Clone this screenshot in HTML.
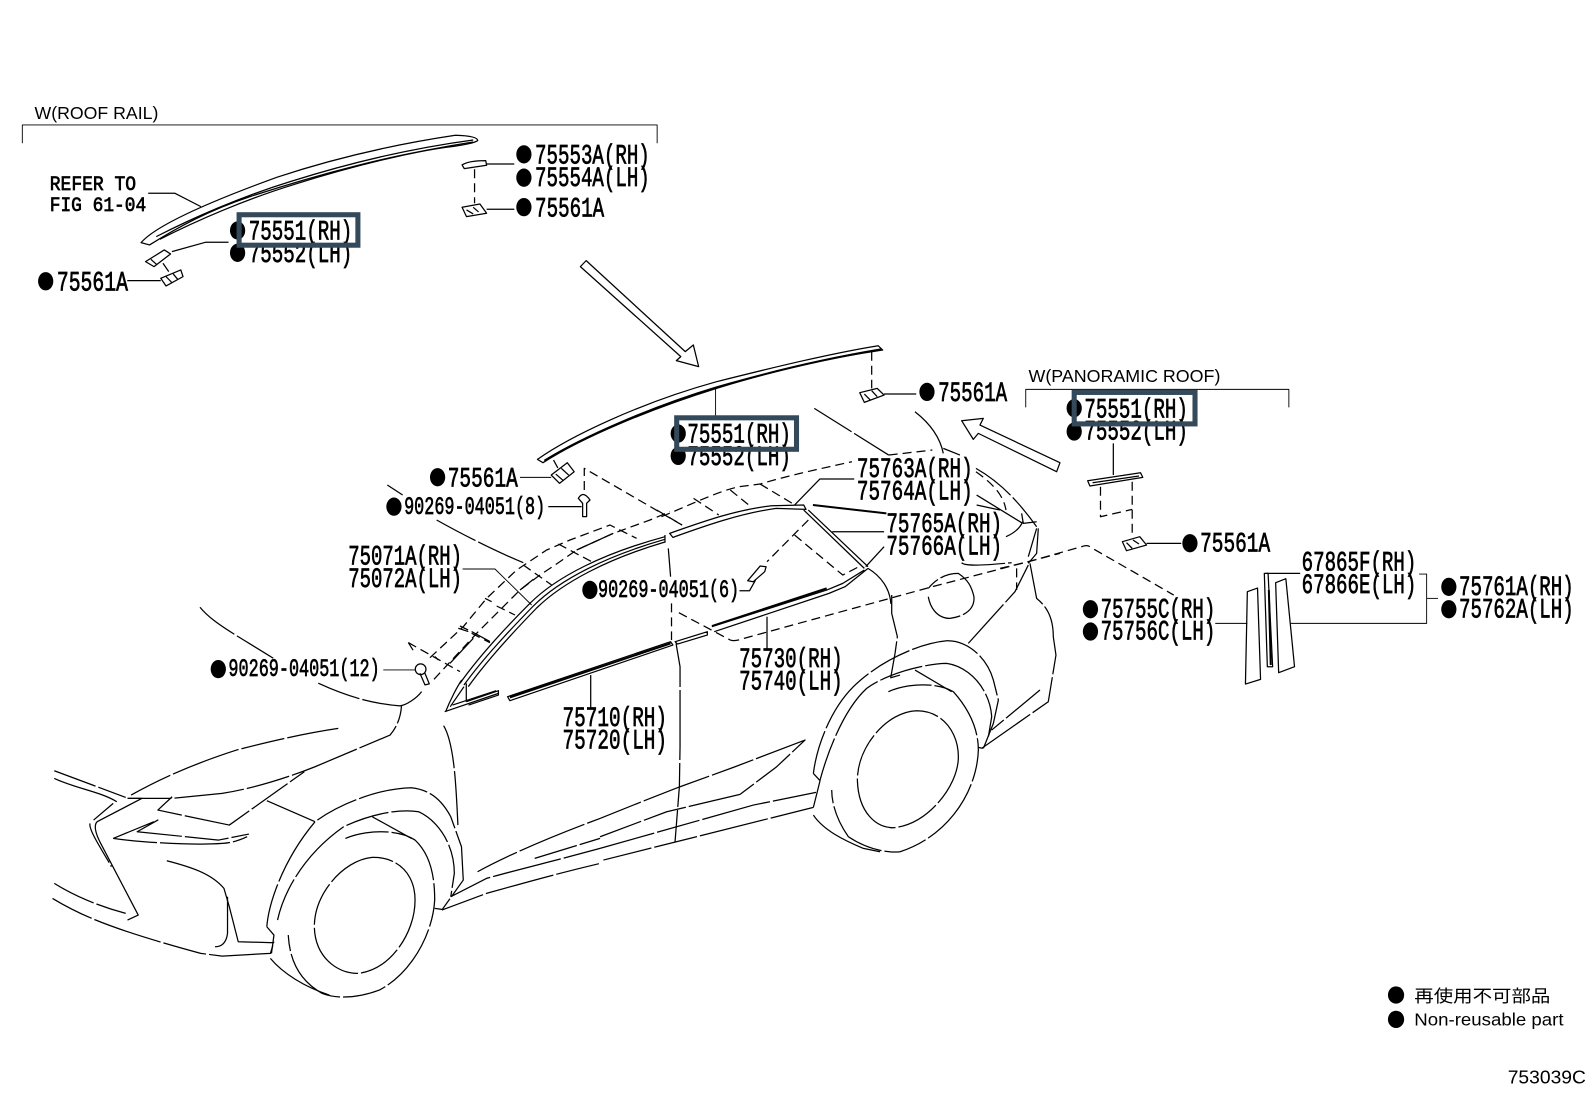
<!DOCTYPE html>
<html><head><meta charset="utf-8"><style>
html,body{margin:0;padding:0;background:#fff}
svg{display:block}
path,ellipse.o{fill:none;stroke:#000;stroke-width:1.25;vector-effect:non-scaling-stroke;stroke-linejoin:round}
.d{stroke-dasharray:9 5}
.c{stroke-dasharray:44 3 70 3}
.t{stroke-width:.9}
.k{stroke-width:2}
text{fill:#000;font-family:"Liberation Mono",monospace;font-weight:normal;font-size:27px;stroke:#000;stroke-width:.7}
.s{font-size:25px}
.n{font-family:"Liberation Sans","Noto Sans CJK JP",sans-serif;font-weight:normal;font-size:17px;stroke:none}
rect{fill:none;stroke:#34495a;stroke-width:5}
</style></head><body>
<svg width="1592" height="1099" viewBox="0 0 1568 1082.4" preserveAspectRatio="none" xmlns="http://www.w3.org/2000/svg">

<!-- top-left inset -->
<g transform="translate(0,88.6) scale(.4397,.3283)">
<path class="t" d="M50 160V105H1472V160"/>
<path d="M316 458C350 405 470 335 620 262C760 200 900 160 1020 136Q1070 138 1070 152Q1060 162 1000 172C880 195 720 250 560 320C470 360 400 410 335 465Z"/>
<path d="M350 440C430 385 540 320 650 275C780 220 920 175 1060 150"/>
<path d="M358 448C440 392 550 328 660 283C790 228 930 183 1060 156"/>
<path d="M332 310H392L450 350"/>
<path d="M512 457H460L385 485"/>
<path d="M326 515L368 480L382 492L345 530ZM338 508L352 525"/>
<path d="M365 520L378 545"/>
<path d="M360 565L405 540L410 560L372 588ZM372 560L385 578M388 552L398 568"/>
<path d="M285 572H360"/>
<path d="M1035 225Q1050 212 1088 212L1090 226L1040 236Z"/>
<path d="M1090 222H1152"/>
<path class="d" d="M1063 238V340"/>
<path d="M1035 352L1075 342L1090 370L1045 380ZM1045 360L1060 372M1060 352L1072 366"/>
<path d="M1090 358H1152"/>
<path d="M1313 512L1535 785L1553 765L1565 830L1515 812L1525 800L1300 530Z"/>
</g>

<!-- central group -->
<g transform="translate(334.9,334.9) scale(.4522,.3283)">
<path d="M430 358C500 290 650 190 820 125C950 80 1070 40 1172 17L1182 30C1060 55 950 90 820 145C680 205 530 290 442 368Z"/>
<path class="k" d="M445 362C530 290 680 200 820 142C950 90 1060 55 1178 28"/>
<path class="t" d="M818 145V240"/>
<path class="d" d="M1158 35V145"/>
<path d="M1132 158L1170 145L1185 165L1142 187ZM1142 162L1155 180M1158 152L1170 170"/>
<path d="M1185 162H1255"/>
<path d="M460 405L495 368L510 395L478 430ZM470 402L485 420M482 385L498 405"/>
<path class="d" d="M465 360L475 385"/>
<path class="t" d="M392 412H460"/>
<path class="d" d="M532 450V385L745 555"/>
<path class="d" d="M700 530C770 490 830 450 870 440L915 432C980 405 1050 385 1115 365"/>
<path class="d" d="M770 475L825 525M850 450L895 500M915 432L985 490M690 510L745 555"/>
<path class="c" d="M1033 205L1195 345"/>
<path class="d" d="M1195 345L1290 330"/>
<path d="M230 1115C240 1080 255 1040 265 1020"/>
<path d="M240 1100L270 1040"/>
<path d="M228 1115L345 1060M245 1095L340 1052M275 1030V1085"/>
<path d="M275 1085L345 1052L345 1065L280 1095"/>
<path d="M718 580C790 545 860 510 940 497L1010 495L1015 508L950 505C870 520 790 560 725 592Z"/>
<path d="M1010 510L1142 685M1020 510L1150 680"/>
<path d="M1142 690L1095 730L1060 750L810 860"/>
<path class="k" d="M1060 745L810 858"/>
<path d="M1150 685L1100 740L1065 760L815 875"/>
<path d="M730 905L800 875L800 885L735 912Z"/>
<path d="M365 1070L720 905L725 915L370 1082Z"/>
<path class="k" d="M370 1072L720 910"/>
<path d="M715 625L720 710"/>
<path class="d" d="M722 790V900"/>
<path class="d" d="M738 818L850 900"/>
<path class="d" d="M850 900Q860 905 880 895L1290 740L1568 640"/>
<path class="d" d="M1020 540L930 665"/>
<path class="d" d="M990 585L1095 705L1130 680"/>
<path d="M888 722L915 678L928 680L925 695L900 725Z"/>
<path d="M870 752H892L905 720"/>
<path d="M930 830V930M546 1005V1105"/>
<path d="M1120 417H1045L990 495"/>
<path d="M1185 575H1072"/>
<path class="k" d="M1030 495L1190 520"/>
<path d="M1185 620L1145 680"/>
<path class="c" d="M1150 685C1180 710 1200 750 1200 800"/>
</g>

<!-- roof area left -->
<g transform="translate(364.4,462.9) scale(.3283)">
<path d="M52 45L98 75"/>
<path class="c" d="M200 150C280 195 380 245 460 278"/>
<path class="d" d="M180 563L280 470L350 385L440 300L530 240L600 210L720 165L800 205"/>
<path class="d" d="M192 628L320 490L400 410L450 360L510 315L570 275L620 240L730 190L840 150L900 125"/>
<path d="M240 580L310 505M450 360L490 328M620 240L730 190"/>
<path class="d" d="M270 468L295 480M345 385L365 395M460 285L545 345M565 222L665 275M305 490L360 518M380 408L435 435"/>
<path d="M270 640C330 555 410 470 480 400C560 320 700 250 885 200"/>
<path d="M282 645C342 562 422 478 490 408C570 328 710 258 885 208"/>
<path d="M295 650C352 570 430 486 500 414C580 336 715 266 885 216"/>
<path d="M885 195V218"/>
<path class="t" d="M278 297H375L485 405"/>
<path d="M625 85Q640 60 660 90L650 100V140H638V100ZM535 110H635"/>
</g>

<!-- 12-bolt -->
<g transform="translate(187.1,581) scale(.3283)">
<path class="c" d="M30 52C70 100 130 130 250 205"/>
<path class="c" d="M385 280C450 310 530 340 630 348C650 345 680 325 695 305"/>
<ellipse class="o" cx="692" cy="238" rx="16" ry="16" style="fill:none"/>
<path d="M690 250L705 285L718 282L705 250"/>
<path class="t" d="M580 240H675"/>
<path class="d" d="M655 158L672 185M655 158L810 245"/>
<path d="M735 200L745 210M805 115L835 125M845 125L900 155"/>
</g>

<!-- rear -->
<g transform="translate(591,551.6) scale(.3283)">
<path class="c" d="M875 105L875 160L892 230L885 280"/>
<path d="M885 280L872 353L900 345"/>
<path class="c" d="M640 640C650 560 690 450 760 380C830 310 950 250 1040 242C1100 240 1160 290 1180 360L1195 420L1180 490L1150 565"/>
<path class="c" d="M660 660C690 550 740 440 800 385C860 340 980 310 1040 310C1110 320 1170 390 1175 470L1165 530"/>
<path d="M640 640L660 662L640 742"/>
<path class="c" d="M0 775L150 715L240 680L400 622L615 540L530 620L420 703L200 755L0 830"/>
<path class="c" d="M648 697L460 735L0 865"/>
<path class="c" d="M640 742L10 900"/>
<path class="c" d="M865 395C920 370 1010 365 1060 395C1100 440 1135 500 1135 570C1130 700 1040 830 900 875C850 880 790 860 745 830C710 780 695 730 695 690"/>
<path d="M640 765C670 810 730 840 790 865L840 875"/>
<path d="M945 330L1055 395"/>
<path class="c" d="M1075 590C1075 520 1030 452 950 452C860 455 772 560 772 660C775 760 830 803 880 803C980 795 1075 680 1075 590Z"/>
<path class="c" d="M228 250L240 320V560L238 680L225 845"/>
<path d="M1148 565L1135 562"/>
</g>

<!-- rear upper -->
<g transform="translate(886.4,394) scale(.3283)">
<path d="M45 35C90 70 120 110 130 160M130 145L180 165"/>
<path d="M185 62L250 55L240 75L480 188L470 215L235 100L220 118Z"/>
<path class="c" d="M228 205C290 240 345 290 410 380"/>
<path class="d" d="M228 215C270 245 310 280 318 330"/>
<path d="M230 285L365 368M230 315L300 330M318 410C340 400 360 385 368 365M365 340L370 370L410 365"/>
<path d="M410 385L385 470M415 385L410 460L385 490"/>
<path class="c" d="M185 488C195 500 260 495 335 488"/>
<path class="d" d="M350 505V570"/>
<path class="c" d="M385 495L345 575L205 730"/>
<path class="c" d="M390 490L410 595C440 620 460 650 460 710L468 765L445 905L245 1045"/>
<path class="c" d="M420 870L275 990"/>
<path class="c" d="M85 590C90 620 110 655 150 655C190 650 225 630 222 590C215 560 205 540 175 520C140 520 110 535 85 565"/>
</g>

<!-- front -->
<g transform="translate(39.4,630.4) scale(.3518,.3283)">
<path class="c" d="M40 392L240 472"/>
<path d="M40 415C100 445 170 455 215 485"/>
<path d="M245 475H285L160 545C150 555 155 580 170 610L275 825L245 840"/>
<path class="c" d="M140 550C135 570 180 640 200 680"/>
<path class="c" d="M205 490L150 540"/>
<path class="c" d="M255 465C330 420 420 375 550 330C640 305 740 280 835 265"/>
<path class="c" d="M245 475H370L510 460C600 445 700 410 770 380L980 285C1000 260 1010 230 1012 198"/>
<path class="c" d="M370 470L330 510L530 555L740 395"/>
<path d="M635 482L770 545"/>
<path class="c" d="M205 595L330 540L272 575L500 600L585 582"/>
<path class="c" d="M205 595C300 610 450 615 510 610C540 608 560 600 580 590"/>
<path d="M355 662C420 680 480 700 515 745L530 800L555 905L655 908"/>
<path d="M525 770V880Q520 920 490 920"/>
<path class="c" d="M40 730C100 770 170 800 240 820"/>
<path class="c" d="M35 775C120 830 210 870 450 940L510 948L645 940L655 905"/>
<path class="c" d="M635 860C640 790 680 660 770 545C840 490 950 445 1040 443C1100 450 1130 490 1150 530L1180 620L1185 720L1125 810"/>
<path d="M635 860L655 885L648 940"/>
<path class="c" d="M665 840C690 720 770 620 850 560C920 525 1000 505 1060 515C1120 545 1160 620 1160 700L1150 770"/>
<path class="c" d="M855 595C910 570 1000 565 1050 600C1090 640 1105 700 1105 780C1100 880 1040 1000 950 1050C900 1070 840 1080 790 1060C740 1030 700 980 695 885"/>
<path d="M645 955C680 1000 740 1040 810 1065"/>
<path d="M930 530L1040 595"/>
<path class="c" d="M1050 780C1050 700 1000 650 930 652C850 660 768 760 768 860C770 950 830 1000 890 1000C980 990 1050 880 1050 780Z"/>
<path class="c" d="M1130 257C1160 310 1165 440 1170 555"/>
<path d="M1125 808L1105 805"/>
<path class="c" d="M1125 810L1250 760C1350 730 1450 700 1568 670"/>
<path class="c" d="M1150 770L1250 715C1350 685 1450 660 1568 625"/>
<path class="c" d="M1225 695C1300 650 1430 590 1568 535"/>
<path class="c" d="M1385 655L1568 595"/>
</g>

<!-- right inset -->
<g transform="translate(985,354.6) scale(.3718,.3283)">
<path class="t" d="M68 142V88H765V142"/>
<path d="M300 250V345"/>
<path d="M232 362L372 338L378 352L238 378Z"/>
<path d="M245 368L368 348"/>
<path class="d" d="M266 380V470L350 448"/>
<path class="d" d="M350 365V530"/>
<path d="M324 545L370 530L388 555L335 572ZM335 548L350 565M352 540L368 552"/>
<path d="M388 550H480"/>
<path class="d" d="M0 625L75 605L225 557Q235 555 245 565L460 705"/>
<path class="t" d="M570 790H655"/>
<path d="M655 695L682 684L690 958L650 972Z"/>
<path d="M700 640L710 640L722 920H708Z"/>
<path class="k" d="M712 690L717 915"/>
<path d="M730 668L757 656L780 920L738 938Z"/>
<path d="M705 640H795"/>
<path class="t" d="M770 790H1130V642H1110"/>
<path class="t" d="M1130 715H1160"/>
</g>

<!-- bullets -->
<g>
<ellipse cx="234" cy="227" rx="7.5" ry="9"/><ellipse cx="234" cy="249" rx="7.5" ry="9"/>
<ellipse cx="45" cy="277" rx="7.5" ry="9"/>
<ellipse cx="516" cy="152" rx="7.5" ry="9"/><ellipse cx="516" cy="175" rx="7.5" ry="9"/><ellipse cx="516" cy="204" rx="7.5" ry="9"/>
<ellipse cx="668" cy="427" rx="7.5" ry="9"/><ellipse cx="668" cy="449" rx="7.5" ry="9"/>
<ellipse cx="913" cy="386" rx="7.5" ry="9"/><ellipse cx="431" cy="470" rx="7.5" ry="9"/>
<ellipse cx="388" cy="499" rx="7.5" ry="9"/><ellipse cx="581" cy="581" rx="7.5" ry="9"/><ellipse cx="215" cy="659" rx="7.5" ry="9"/>
<ellipse cx="1058" cy="402" rx="7.5" ry="9"/><ellipse cx="1058" cy="425" rx="7.5" ry="9"/>
<ellipse cx="1172" cy="535" rx="7.5" ry="9"/>
<ellipse cx="1074" cy="600" rx="7.5" ry="9"/><ellipse cx="1074" cy="622" rx="7.5" ry="9"/>
<ellipse cx="1427" cy="578" rx="7.5" ry="9"/><ellipse cx="1427" cy="600" rx="7.5" ry="9"/>
<ellipse cx="1375" cy="980" rx="8" ry="8.5"/><ellipse cx="1375" cy="1004" rx="8" ry="8.5"/>
</g>

<!-- labels -->
<g>
<text class="n" x="34" y="117" textLength="122" lengthAdjust="spacingAndGlyphs">W(ROOF RAIL)</text>
<text class="n" x="1013" y="376" textLength="189" lengthAdjust="spacingAndGlyphs">W(PANORAMIC ROOF)</text>
<text style="font-size:20px" x="49" y="187" textLength="85" lengthAdjust="spacingAndGlyphs">REFER TO</text>
<text style="font-size:20px" x="49" y="208" textLength="95" lengthAdjust="spacingAndGlyphs">FIG 61-04</text>
<text x="245" y="236" textLength="102" lengthAdjust="spacingAndGlyphs">75551(RH)</text>
<text x="245" y="258" textLength="102" lengthAdjust="spacingAndGlyphs">75552(LH)</text>
<text x="56" y="286" textLength="70" lengthAdjust="spacingAndGlyphs">75561A</text>
<text x="527" y="161" textLength="113" lengthAdjust="spacingAndGlyphs">75553A(RH)</text>
<text x="527" y="183" textLength="113" lengthAdjust="spacingAndGlyphs">75554A(LH)</text>
<text x="527" y="213" textLength="68" lengthAdjust="spacingAndGlyphs">75561A</text>
<text x="677" y="436" textLength="102" lengthAdjust="spacingAndGlyphs">75551(RH)</text>
<text x="677" y="458" textLength="102" lengthAdjust="spacingAndGlyphs">75552(LH)</text>
<text x="924" y="395" textLength="68" lengthAdjust="spacingAndGlyphs">75561A</text>
<text x="441" y="479" textLength="69" lengthAdjust="spacingAndGlyphs">75561A</text>
<text class="s" x="398" y="506" textLength="139" lengthAdjust="spacingAndGlyphs">90269-04051(8)</text>
<text class="s" x="589" y="588" textLength="139" lengthAdjust="spacingAndGlyphs">90269-04051(6)</text>
<text class="s" x="225" y="666" textLength="149" lengthAdjust="spacingAndGlyphs">90269-04051(12)</text>
<text x="844" y="470" textLength="114" lengthAdjust="spacingAndGlyphs">75763A(RH)</text>
<text x="844" y="492" textLength="114" lengthAdjust="spacingAndGlyphs">75764A(LH)</text>
<text x="873" y="524" textLength="114" lengthAdjust="spacingAndGlyphs">75765A(RH)</text>
<text x="873" y="546" textLength="114" lengthAdjust="spacingAndGlyphs">75766A(LH)</text>
<text x="343" y="556" textLength="112" lengthAdjust="spacingAndGlyphs">75071A(RH)</text>
<text x="343" y="578" textLength="112" lengthAdjust="spacingAndGlyphs">75072A(LH)</text>
<text x="554" y="715" textLength="103" lengthAdjust="spacingAndGlyphs">75710(RH)</text>
<text x="554" y="737" textLength="103" lengthAdjust="spacingAndGlyphs">75720(LH)</text>
<text x="728" y="657" textLength="102" lengthAdjust="spacingAndGlyphs">75730(RH)</text>
<text x="728" y="679" textLength="102" lengthAdjust="spacingAndGlyphs">75740(LH)</text>
<text x="1068" y="411" textLength="102" lengthAdjust="spacingAndGlyphs">75551(RH)</text>
<text x="1068" y="433" textLength="102" lengthAdjust="spacingAndGlyphs">75552(LH)</text>
<text x="1182" y="543" textLength="69" lengthAdjust="spacingAndGlyphs">75561A</text>
<text x="1282" y="562" textLength="113" lengthAdjust="spacingAndGlyphs">67865F(RH)</text>
<text x="1282" y="584" textLength="113" lengthAdjust="spacingAndGlyphs">67866E(LH)</text>
<text x="1084" y="608" textLength="113" lengthAdjust="spacingAndGlyphs">75755C(RH)</text>
<text x="1084" y="630" textLength="113" lengthAdjust="spacingAndGlyphs">75756C(LH)</text>
<text x="1437" y="586" textLength="113" lengthAdjust="spacingAndGlyphs">75761A(RH)</text>
<text x="1437" y="608" textLength="113" lengthAdjust="spacingAndGlyphs">75762A(LH)</text>
<text class="n" x="1393" y="987" textLength="134" lengthAdjust="spacingAndGlyphs">再使用不可部品</text>
<text class="n" x="1393" y="1010" textLength="147" lengthAdjust="spacingAndGlyphs">Non-reusable part</text>
<text class="n" style="font-size:18px" x="1485" y="1067" textLength="77" lengthAdjust="spacingAndGlyphs">753039C</text>
</g>

<!-- highlight boxes -->
<rect x="235.5" y="211.5" width="117" height="30"/>
<rect x="666.5" y="411.5" width="118" height="31"/>
<rect x="1058" y="386.5" width="119" height="31"/>
</svg>
</body></html>
